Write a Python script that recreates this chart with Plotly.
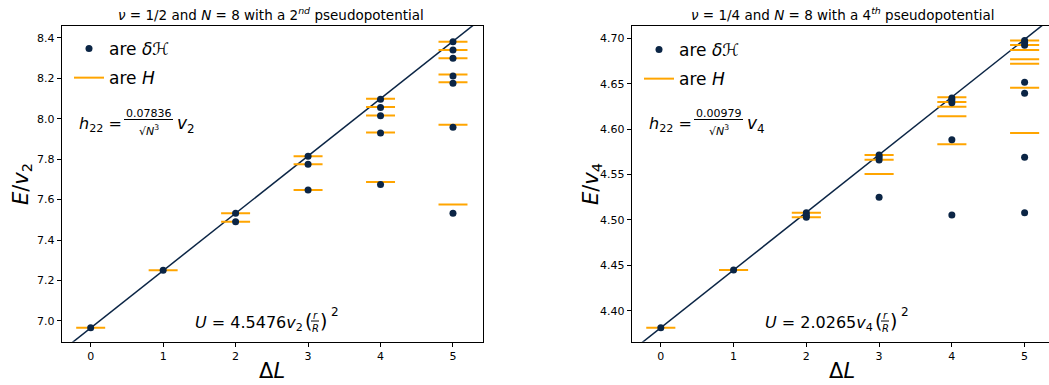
import plotly.graph_objects as go

W, H = 1049, 385

# ---------------- data ----------------
dL = [0, 1, 2, 3, 4, 5]

# nu = 1/2, N = 8, 2nd pseudopotential
left_dots = [
    [6.966],
    [7.250],
    [7.532, 7.491],
    [7.815, 7.775, 7.647],
    [8.097, 8.056, 8.015, 7.929, 7.675],
    [8.381, 8.340, 8.299, 8.212, 8.176, 7.958, 7.532],
]
left_H = [
    [6.966],
    [7.250],
    [7.532, 7.491],
    [7.815, 7.775, 7.648],
    [8.099, 8.058, 8.016, 7.932, 7.687],
    [8.381, 8.340, 8.300, 8.219, 8.181, 7.970, 7.576],
]
left_fit = (6.965, 0.2837)   # intercept, slope

# nu = 1/4, N = 8, 4th pseudopotential
right_dots = [
    [4.3813],
    [4.4448],
    [4.5079, 4.5050, 4.5029],
    [4.5714, 4.5689, 4.5660, 4.5249],
    [4.6343, 4.6320, 4.6290, 4.5883, 4.5054],
    [4.6974, 4.6952, 4.6923, 4.6515, 4.6394, 4.5689, 4.5080],
]
right_H = [
    [4.3813],
    [4.4448],
    [4.5079, 4.5029],
    [4.5714, 4.5662, 4.5505],
    [4.6350, 4.6298, 4.6247, 4.6140, 4.5833],
    [4.6974, 4.6926, 4.6871, 4.6770, 4.6720, 4.6456, 4.5957],
]
right_fit = (4.3813, 0.0635)

left_yticks = [7.0, 7.2, 7.4, 7.6, 7.8, 8.0, 8.2, 8.4]
right_yticks = [4.40, 4.45, 4.50, 4.55, 4.60, 4.65, 4.70]

NAVY = "#0b2545"
ORANGE = "#ffa500"
HALF = 0.2

# ---------------- figure ----------------
fig = go.Figure()


def px(x):
    return x / W


def py(y):
    return 1 - y / H


def add_panel(dots, Hs, fit, xa, ya, legend):
    # fit line
    xs = [-0.6, 5.6]
    fig.add_trace(go.Scatter(x=xs, y=[fit[0] + fit[1] * x for x in xs], mode="lines",
                             line=dict(color=NAVY, width=1.5), showlegend=False,
                             xaxis=xa, yaxis=ya, hoverinfo="skip"))
    # H lines
    hx, hy = [], []
    for k, vals in zip(dL, Hs):
        for v in vals:
            hx += [k - HALF, k + HALF, None]
            hy += [v, v, None]
    fig.add_trace(go.Scatter(x=hx, y=hy, mode="lines", line=dict(color=ORANGE, width=2),
                             name="are <i>H</i>", legend=legend, legendrank=2,
                             legendgroup="h" + legend, xaxis=xa, yaxis=ya))
    # dots
    dx, dy = [], []
    for k, vals in zip(dL, dots):
        for v in vals:
            dx.append(k)
            dy.append(v)
    fig.add_trace(go.Scatter(x=dx, y=dy, mode="markers", marker=dict(color=NAVY, size=7),
                             name="are <i>δℋ</i>", legend=legend, legendrank=1,
                             legendgroup="d" + legend, xaxis=xa, yaxis=ya))


add_panel(left_dots, left_H, left_fit, "x", "y", "legend")
add_panel(right_dots, right_H, right_fit, "x2", "y2", "legend2")

ax_common = dict(showline=True, linecolor="black", linewidth=1, mirror=True,
                 ticks="outside", ticklen=4, tickwidth=1, tickcolor="black",
                 showgrid=False, zeroline=False,
                 tickfont=dict(family="DejaVu Sans", size=11, color="black"))

y0, y1 = py(341.7), py(26)
fig.update_layout(
    width=W, height=H, margin=dict(l=0, r=0, t=0, b=0),
    paper_bgcolor="white", plot_bgcolor="white",
    font=dict(family="DejaVu Sans", color="black"),
    xaxis=dict(domain=[px(61.7), px(482.7)], range=[-0.4, 5.41], tickvals=dL, anchor="y", **ax_common),
    yaxis=dict(domain=[y0, y1], range=[6.897, 8.459], tickvals=left_yticks,
               tickformat=".1f", anchor="x", **ax_common),
    xaxis2=dict(domain=[px(631.7), 1.0], range=[-0.4, 5.335], tickvals=dL, anchor="y2", **ax_common),
    yaxis2=dict(domain=[y0, y1], range=[4.3659, 4.7135], tickvals=right_yticks,
                tickformat=".2f", anchor="x2", **ax_common),
    legend=dict(x=px(69), y=py(31), xanchor="left", yanchor="top", bgcolor="rgba(0,0,0,0)",
                font=dict(size=17, family="DejaVu Sans"), tracegroupgap=4,
                traceorder="grouped"),
    legend2=dict(x=px(639), y=py(32), xanchor="left", yanchor="top", bgcolor="rgba(0,0,0,0)",
                 font=dict(size=17, family="DejaVu Sans"), tracegroupgap=4,
                 traceorder="grouped"),
)

ann = []
shapes = []


def text(x, y, s, size, xanchor="center", yanchor="middle", angle=0):
    ann.append(dict(x=px(x), y=py(y), xref="paper", yref="paper", text=s, showarrow=False,
                    xanchor=xanchor, yanchor=yanchor, textangle=angle,
                    font=dict(size=size, family="DejaVu Sans", color="black")))


def bar(x0, x1, y):
    shapes.append(dict(type="line", xref="paper", yref="paper", x0=px(x0), x1=px(x1),
                       y0=py(y), y1=py(y), line=dict(color="black", width=1)))


# titles
text(271, 14, "<i>ν</i> = 1/2 and <i>N</i> = 8 with a 2<sup><i>nd</i></sup> pseudopotential", 13.5)
text(842, 14, "<i>ν</i> = 1/4 and <i>N</i> = 8 with a 4<sup><i>th</i></sup> pseudopotential", 13.5)
# axis labels
text(272, 371, "Δ<i>L</i>", 21)
text(842, 371, "Δ<i>L</i>", 21)
text(22, 184, "<i>E</i>/<i>v</i><sub>2</sub>", 21, angle=-90)
text(592, 184, "<i>E</i>/<i>v</i><sub>4</sub>", 21, angle=-90)


def h22(x0, num, v):
    text(x0, 124, "<i>h</i><sub>22</sub> =", 16, xanchor="left")
    cx = x0 + 71.5
    text(cx, 113, num, 11)
    bar(x0 + 47, x0 + 96, 119.5)
    text(cx, 130, "√<i>N</i><sup>3</sup>", 11)
    text(x0 + 98, 124, "<i>v</i><sub>" + v + "</sub>", 17, xanchor="left")


def ueq(x0, coef, v):
    text(x0 + 107, 323, "<i>U</i> = " + coef + "<i>v</i><sub>" + v + "</sub>", 16, xanchor="right")
    text(x0 + 110, 321, "(", 19)
    text(x0 + 117, 315, "<i>r</i>", 10)
    bar(x0 + 113, x0 + 121, 321)
    text(x0 + 117, 328, "<i>R</i>", 10)
    text(x0 + 125, 321, ")", 19)
    text(x0 + 131, 312, "2", 12, xanchor="left")


h22(77, "0.07836", "2")
h22(647, "0.00979", "4")
ueq(198, "4.5476", "2")
ueq(768, "2.0265", "4")

fig.update_layout(annotations=ann, shapes=shapes)
fig.write_html("out.html")
